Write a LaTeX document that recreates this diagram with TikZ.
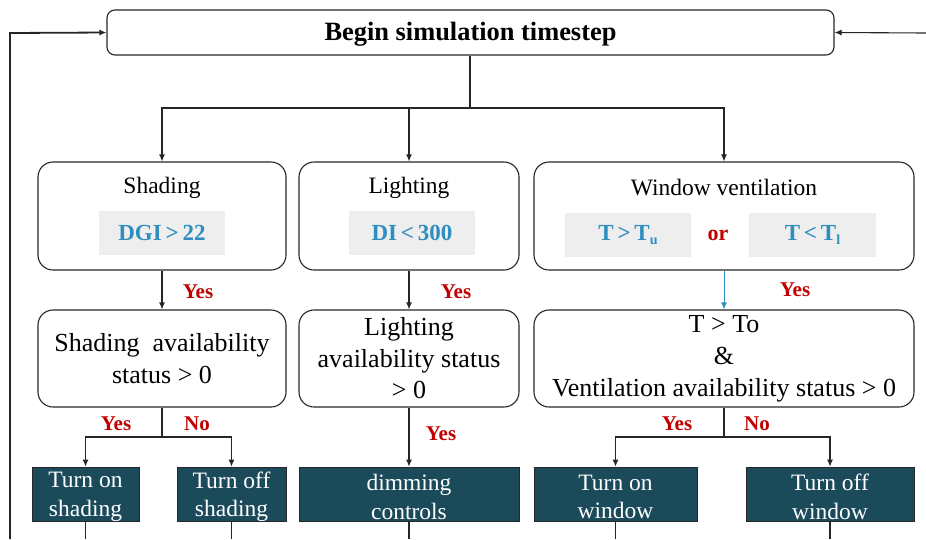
\documentclass[tikz,border=0pt]{standalone}
\usepackage{fontspec}
\setmainfont{Liberation Serif}
\usetikzlibrary{arrows.meta}
\definecolor{cblue}{RGB}{46,142,192}
\definecolor{cred}{RGB}{192,0,0}
\definecolor{cteal}{RGB}{27,74,91}
\definecolor{cgray}{RGB}{238,238,238}
\begin{document}
\begin{tikzpicture}[x=1pt,y=-1pt,
  conn/.style={line width=1.1pt,draw=black!85},
  arr/.style={conn,-{Latex[length=7pt,width=6pt]}},
  rbox/.style={draw=black!85,line width=1.1pt,rounded corners=15pt,inner sep=0pt,align=center,
    font=\fontsize{26}{32}\selectfont},
  topbox/.style={draw=black!85,line width=1.1pt,rounded corners=8pt,inner sep=0pt,
    minimum width=727pt,minimum height=45pt},
  toptext/.style={inner sep=0pt,font=\fontsize{26.4}{30}\selectfont\bfseries},
  title/.style={font=\fontsize{23.5}{28}\selectfont,inner sep=0pt},
  graybox/.style={fill=cgray,inner sep=0pt,minimum width=126pt,minimum height=44pt,
    text=cblue,font=\fontsize{23}{28}\selectfont\bfseries},
  lbl/.style={text=cred,font=\fontsize{21}{25}\selectfont\bfseries,inner sep=0pt},
  act/.style={fill=cteal,draw=black!85,line width=0.8pt,inner sep=0pt,minimum height=54pt},
  acttext/.style={text=white,align=center,inner sep=0pt,font=\fontsize{23.5}{28.5}\selectfont}
]
\useasboundingbox (0,0) rectangle (926,539);

% top box
\node[topbox] (top) at (470.5,32.5) {};
\node[toptext] (topt) at (470.5,34.5) {Begin simulation timestep};

% row 1
\node[rbox,minimum width=248pt,minimum height=108pt] (shade) at (162,216) {};
\node[rbox,minimum width=220pt,minimum height=108pt] (light) at (409,216) {};
\node[rbox,minimum width=380pt,minimum height=108pt] (win) at (724,216) {};
\node[title] (shadet) at (162,188) {Shading};
\node[title] (lightt) at (409,188) {Lighting};
\node[title] (wint) at (724,188) {Window ventilation};
\node[graybox] (dgi) at (162,233) {DGI\,>\,22};
\node[graybox] (di) at (412,233) {DI\,<\,300};
\node[graybox] (tu) at (628,235) {T\,>\,T\raisebox{-0.35ex}{\fontsize{14}{14}\selectfont u}};
\node[graybox,minimum width=127pt] (tl) at (812.5,235) {T\,<\,T\raisebox{-0.35ex}{\fontsize{14}{14}\selectfont l}};
\node[lbl,font=\fontsize{22}{26}\selectfont\bfseries] (or) at (718,235) {or};

% row 2
\node[rbox,minimum width=248pt,minimum height=97pt] (sav) at (162,358.5) {Shading\ \ availability\\status > 0};
\node[rbox,minimum width=220pt,minimum height=97pt,font=\fontsize{26}{31.5}\selectfont] (lav) at (409,358.5) {Lighting\\availability status\\> 0};
\node[rbox,minimum width=380pt,minimum height=97pt] (wav) at (724,358.5) {T > To\\\&\\Ventilation availability status > 0};

% row 3
\node[act,minimum width=107pt] (tos) at (85.5,494) {};
\node[act,minimum width=109pt] (tfs) at (231.5,494) {};
\node[act,minimum width=220pt] (dim) at (409,494) {};
\node[act,minimum width=163pt] (tow) at (615.5,494) {};
\node[act,minimum width=168pt] (tfw) at (830,494) {};
\node[acttext] (tost) at (85.5,497) {Turn on\\shading};
\node[acttext] (tfst) at (231.5,497) {Turn off\\shading};
\node[acttext] (dimt) at (409,497) {dimming\\controls};
\node[acttext] (towt) at (615.5,497) {Turn on\\window};
\node[acttext] (tfwt) at (830,497) {Turn off\\window};

% labels
\node[lbl] (y1) at (198,292) {Yes};
\node[lbl] (y2) at (456,292) {Yes};
\node[lbl] (y3) at (795,290) {Yes};
\node[lbl] (y4) at (116,424) {Yes};
\node[lbl] (n4) at (197,424) {No};
\node[lbl] (y5) at (441,434) {Yes};
\node[lbl] (y6) at (677,424) {Yes};
\node[lbl] (n6) at (757,424) {No};

% coordinates
\coordinate (j1) at (470,108);
\coordinate (j2) at (162,437);
\coordinate (j3) at (724,437);
\coordinate (loopL) at (10,539);
\coordinate (loopLt) at (10,33);
\coordinate (loopR) at (926,33);
\coordinate (b1) at (85.5,539);
\coordinate (b2) at (231.5,539);
\coordinate (b3) at (409,539);
\coordinate (b4) at (615.5,539);
\coordinate (b5) at (830,539);

% connectors
\draw[conn] (top.south -| j1) -- (j1);
\draw[arr] (j1) -| (shade.north);
\draw[arr] (j1) -| (light.north);
\draw[arr] (j1) -| (win.north);
\draw[arr] (shade.south) -- (sav.north);
\draw[arr] (light.south) -- (lav.north);
\draw[arr,draw=cblue,line width=1pt] (win.south) -- (wav.north);
\draw[conn] (sav.south) -- (j2);
\draw[arr] (j2) -| (tos.north);
\draw[arr] (j2) -| (tfs.north);
\draw[arr] (lav.south) -- (dim.north);
\draw[conn] (wav.south) -- (j3);
\draw[arr] (j3) -| (tow.north);
\draw[arr] (j3) -| (tfw.north);
\draw[conn] (tos.south) -- (b1);
\draw[conn] (tfs.south) -- (b2);
\draw[conn] (dim.south) -- (b3);
\draw[conn] (tow.south) -- (b4);
\draw[conn] (tfw.south) -- (b5);
\draw[arr,line width=1.8pt] (loopL) -- (loopLt) -- (top.west);
\draw[arr] (loopR) -- (top.east);
\end{tikzpicture}
\end{document}
